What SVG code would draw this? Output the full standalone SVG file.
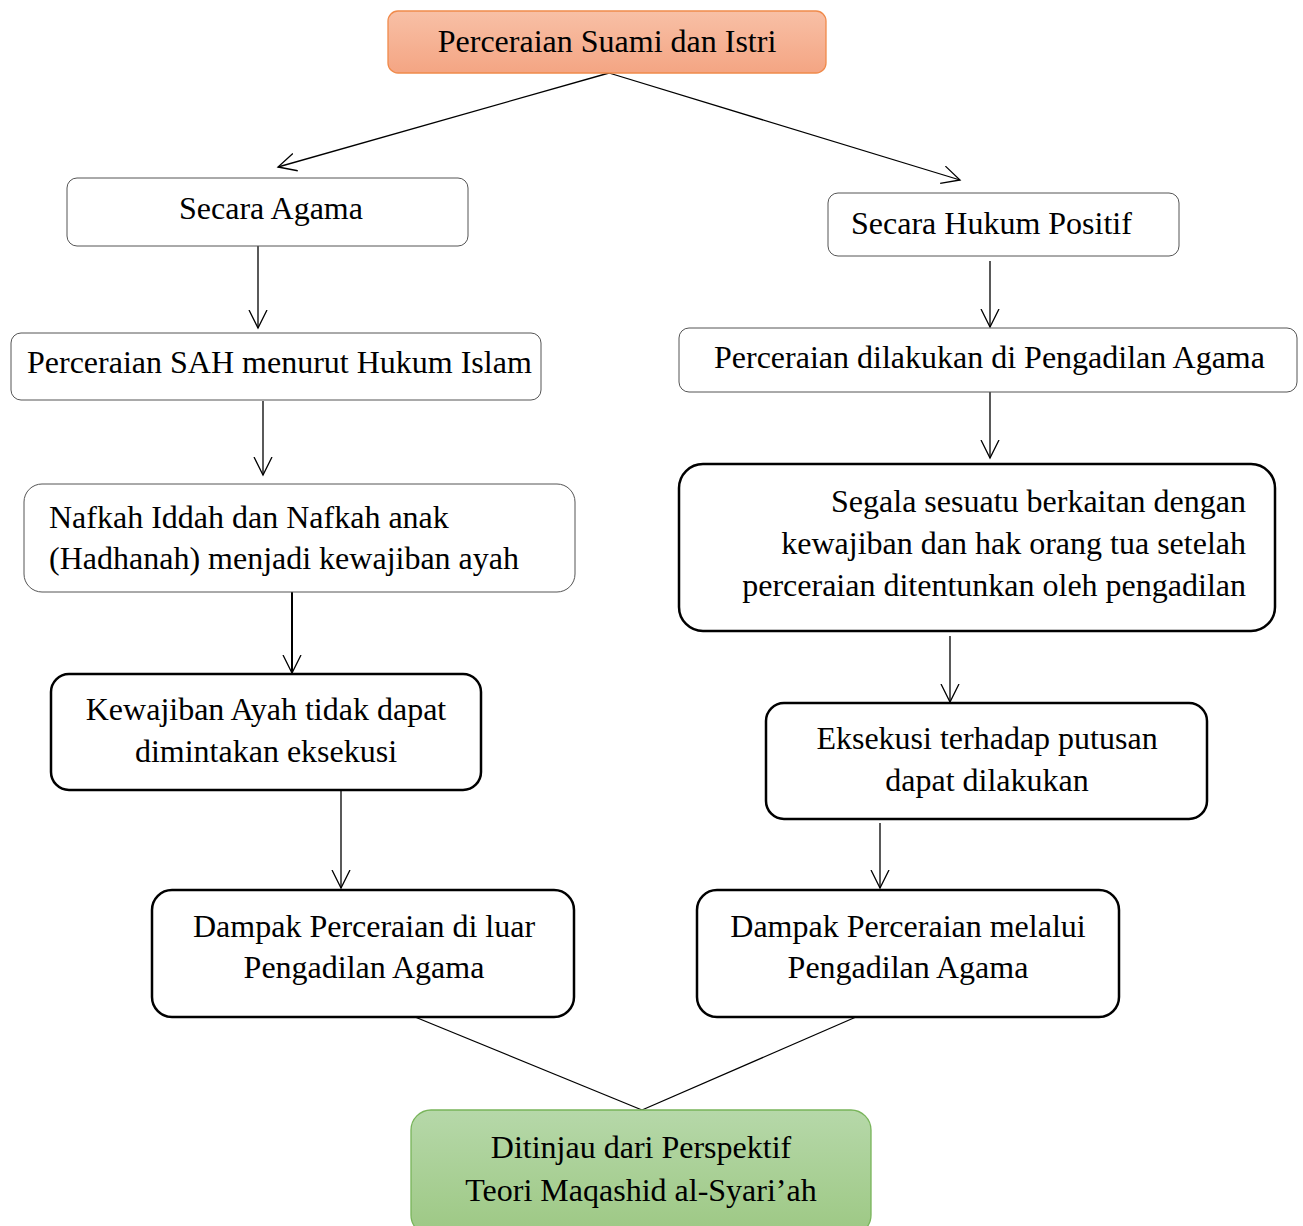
<svg xmlns="http://www.w3.org/2000/svg" width="1303" height="1226" viewBox="0 0 1303 1226">
<defs>
<linearGradient id="gOrange" x1="0" y1="0" x2="0" y2="1"><stop offset="0" stop-color="#f8c0a6"/><stop offset="1" stop-color="#f4a583"/></linearGradient>
<linearGradient id="gGreen" x1="0" y1="0" x2="0" y2="1"><stop offset="0" stop-color="#b6d8a9"/><stop offset="1" stop-color="#9dc884"/></linearGradient>
<marker id="arr" markerUnits="userSpaceOnUse" markerWidth="22" markerHeight="22" refX="18" refY="9" orient="auto" viewBox="0 0 22 18">
<path d="M0,0 L18,9 L0,18" fill="none" stroke="#000" stroke-width="1.3"/>
</marker>
</defs>
<style>
text{font-family:"Liberation Serif","Times New Roman",serif;font-size:32px;fill:#000}
.thin{fill:#fff;stroke:#555;stroke-width:1}
.thick{fill:#fff;stroke:#000;stroke-width:2.5}
.c{text-anchor:middle}
.r{text-anchor:end}
.conn line{stroke:#000;stroke-width:1.3}
</style>
<rect width="1303" height="1226" fill="#fff"/>
<g class="conn">
<line x1="609" y1="73" x2="278" y2="167" marker-end="url(#arr)"/>
<line x1="609" y1="73" x2="960" y2="180" marker-end="url(#arr)"/>
<line x1="258" y1="246" x2="258" y2="328" marker-end="url(#arr)"/>
<line x1="990" y1="261" x2="990" y2="327" marker-end="url(#arr)"/>
<line x1="263" y1="401" x2="263" y2="475" marker-end="url(#arr)"/>
<line x1="990" y1="392" x2="990" y2="458" marker-end="url(#arr)"/>
<line x1="292" y1="592" x2="292" y2="673" marker-end="url(#arr)" style="stroke-width:2"/>
<line x1="950" y1="636" x2="950" y2="702" marker-end="url(#arr)"/>
<line x1="341" y1="790" x2="341" y2="888" marker-end="url(#arr)"/>
<line x1="880" y1="823" x2="880" y2="888" marker-end="url(#arr)"/>
<line x1="415" y1="1017" x2="642" y2="1110"/>
<line x1="856" y1="1017" x2="642" y2="1110"/>
</g>
<g id="n-top">
<rect x="388" y="11" width="438" height="62" rx="10" fill="url(#gOrange)" stroke="#f08a4b" stroke-width="1.3"/>
<text x="607" y="52" class="c">Perceraian Suami dan Istri</text>
</g>
<g id="n-agama">
<rect x="67" y="178" width="401" height="68" rx="10" class="thin"/>
<text x="271" y="219" class="c">Secara Agama</text>
</g>
<g id="n-positif">
<rect x="828" y="193" width="351" height="63" rx="10" class="thin"/>
<text x="851" y="234">Secara Hukum Positif</text>
</g>
<g id="n-sah">
<rect x="11" y="333" width="530" height="67" rx="10" class="thin"/>
<text x="27" y="373">Perceraian SAH menurut Hukum Islam</text>
</g>
<g id="n-pengadilan">
<rect x="679" y="328" width="618" height="64" rx="10" class="thin"/>
<text x="714" y="368">Perceraian dilakukan di Pengadilan Agama</text>
</g>
<g id="n-nafkah">
<rect x="24" y="484" width="551" height="108" rx="18" class="thin"/>
<text x="49" y="528">Nafkah Iddah dan Nafkah anak</text>
<text x="49" y="569">(Hadhanah) menjadi kewajiban ayah</text>
</g>
<g id="n-segala">
<rect x="679" y="464" width="596" height="167" rx="24" class="thick"/>
<text x="1246" y="512" class="r">Segala sesuatu berkaitan dengan</text>
<text x="1246" y="554" class="r">kewajiban dan hak orang tua setelah</text>
<text x="1246" y="596" class="r">perceraian ditentunkan oleh pengadilan</text>
</g>
<g id="n-kewajiban">
<rect x="51" y="674" width="430" height="116" rx="18" class="thick"/>
<text x="266" y="720" class="c">Kewajiban Ayah tidak dapat</text>
<text x="266" y="762" class="c">dimintakan eksekusi</text>
</g>
<g id="n-eksekusi">
<rect x="766" y="703" width="441" height="116" rx="18" class="thick"/>
<text x="987" y="749" class="c">Eksekusi terhadap putusan</text>
<text x="987" y="791" class="c">dapat dilakukan</text>
</g>
<g id="n-luar">
<rect x="152" y="890" width="422" height="127" rx="20" class="thick"/>
<text x="364" y="937" class="c">Dampak Perceraian di luar</text>
<text x="364" y="978" class="c">Pengadilan Agama</text>
</g>
<g id="n-melalui">
<rect x="697" y="890" width="422" height="127" rx="20" class="thick"/>
<text x="908" y="937" class="c">Dampak Perceraian melalui</text>
<text x="908" y="978" class="c">Pengadilan Agama</text>
</g>
<g id="n-bottom">
<rect x="411" y="1110" width="460" height="125" rx="20" fill="url(#gGreen)" stroke="#78b45a" stroke-width="1.3"/>
<text x="641" y="1158" class="c">Ditinjau dari Perspektif</text>
<text x="641" y="1201" class="c">Teori Maqashid al-Syari’ah</text>
</g>
</svg>
